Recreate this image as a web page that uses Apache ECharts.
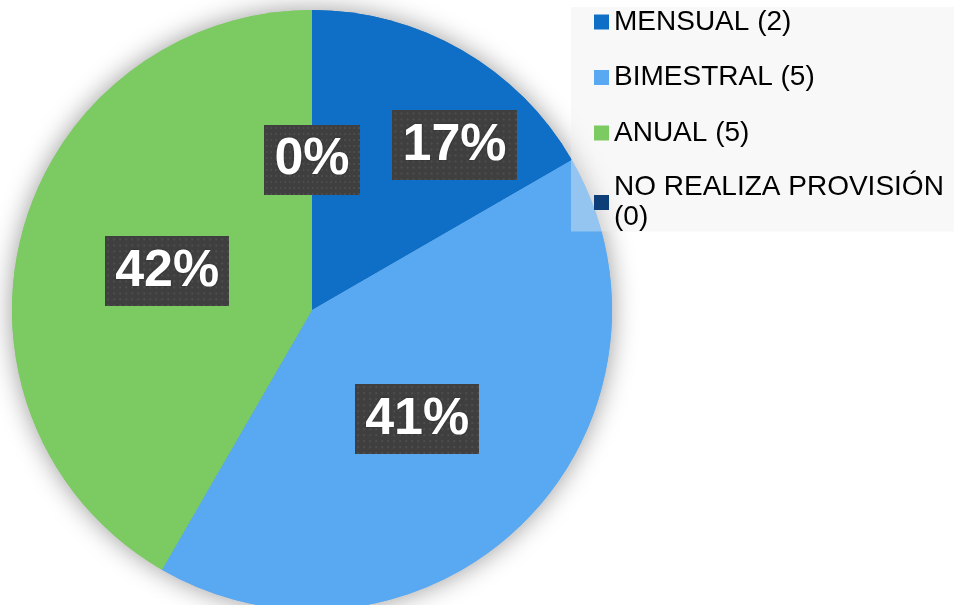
<!DOCTYPE html>
<html>
<head>
<meta charset="utf-8">
<script src="https://cdn.jsdelivr.net/npm/echarts@6/dist/echarts.min.js"></script>
<style>
	html, body { margin: 0; padding: 0; background: #fff; }
	#chart_box { width: 955px; height: 605px; }
</style>
</head>
<body>
<div id="chart_box"></div>
<script type="text/javascript">
var categories = ['MENSUAL', 'BIMESTRAL', 'ANUAL', 'NO REALIZA PROVISIÓN'];
var values = [2, 5, 5, 0];
var shown_pct = ['17%', '41%', '42%', '0%'];
var colors = ['#0F6FC6', '#59A9F2', '#7CCA62', '#0D3E78'];

// dotted dark texture for the label boxes
var tex = document.createElement('canvas');
tex.width = 124;
tex.height = 70;
var ctx = tex.getContext('2d');
ctx.fillStyle = '#3f3f3f';
ctx.fillRect(0, 0, tex.width, tex.height);
ctx.fillStyle = '#4e4e4e';
for (var x = 2; x < tex.width; x += 6) {
	for (var y = 2; y < tex.height; y += 6) {
		ctx.fillRect(x, y, 2, 2);
	}
}

var myChart = echarts.init(document.getElementById('chart_box'));

var series_data = categories.map(function(name, i) {
	return {
		name: name,
		value: values[i],
		itemStyle: { color: colors[i] }
	};
});

var legend_data = categories.map(function(name, i) {
	var item = { name: name };
	if (i == 3) {
		// two lines, first line level with the marker
		item.textStyle = { padding: [0, 0, -30, 0] };
	}
	return item;
});

var option = {
	backgroundColor: '#ffffff',
	animation: false,
	legend: {
		orient: 'vertical',
		left: 571,
		top: 7,
		padding: [0, 10, 0, 23],
		itemWidth: 15,
		itemHeight: 15,
		itemGap: 25.5,
		backgroundColor: 'rgba(238,238,238,0.4)',
		icon: 'rect',
		selectedMode: false,
		textStyle: {
			fontFamily: 'Liberation Sans, Arial, sans-serif',
			fontSize: 28,
			lineHeight: 30,
			color: '#000'
		},
		formatter: function(name) {
			var sep = name.length > 15 ? '\n' : ' ';
			return name + sep + '(' + values[categories.indexOf(name)] + ')';
		},
		data: legend_data
	},
	series: [
		{
			// shadow layer behind the pie
			type: 'pie',
			silent: true,
			center: [312, 310],
			radius: 300,
			startAngle: 90,
			clockwise: true,
			label: { show: false },
			labelLine: { show: false },
			itemStyle: {
				shadowBlur: 26,
				shadowColor: 'rgba(0,0,0,0.4)'
			},
			data: series_data
		},
		{
			name: 'Provisión',
			type: 'pie',
			center: [312, 310],
			radius: 300,
			startAngle: 90,
			clockwise: true,
			minAngle: 0,
			avoidLabelOverlap: false,
			label: {
				show: true,
				position: 'inside',
				formatter: function(p) { return shown_pct[p.dataIndex]; },
				fontFamily: 'Liberation Sans, Arial, sans-serif',
				fontWeight: 'bold',
				fontSize: 52,
				lineHeight: 50,
				color: '#fff',
				padding: [10, 10, 10, 10],
				backgroundColor: { image: tex },
				shadowColor: 'rgba(0,0,0,0.6)',
				shadowBlur: 7,
				shadowOffsetX: 4,
				shadowOffsetY: 4,
				textShadowColor: 'rgba(0,0,0,0.4)',
				textShadowBlur: 2
			},
			labelLine: { show: false },
			labelLayout: function(p) {
				if (p.dataIndex == 0) {
					return { dx: 66, dy: -32 };
				}
				if (p.dataIndex == 3) {
					return { dy: 3 };
				}
				return { dx: p.dataIndex == 1 ? -3 : 3, dy: 1 };
			},
			emphasis: { disabled: true },
			data: series_data
		}
	]
};
myChart.setOption(option);
</script>
</body>
</html>
